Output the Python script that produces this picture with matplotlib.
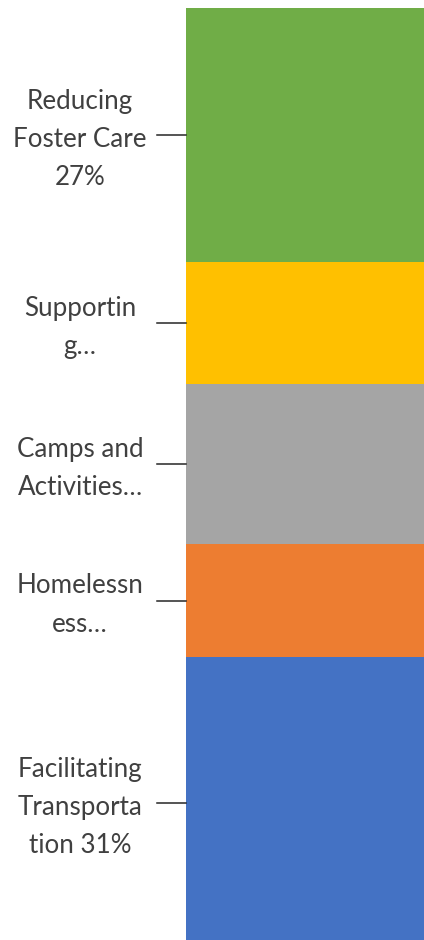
import matplotlib.pyplot as plt
import numpy as np

# data, bottom to top of the stacked bar
categories = ['Facilitating Transportation', 'Homelessness', 'Camps and Activities',
              'Supporting', 'Reducing Foster Care']
values = [31, 12, 17, 13, 27]
labels = ['Facilitating\nTransporta\ntion 31%', 'Homelessn\ness…', 'Camps and\nActivities…',
          'Supportin\ng…', 'Reducing\nFoster Care\n27%']
colors = ['#4472C4', '#ED7D31', '#A5A5A5', '#FFC000', '#70AD47']

plt.rcParams['font.family'] = ['Lato', 'DejaVu Sans']

fig = plt.figure(figsize=(4.24, 9.4), dpi=100)
ax = fig.add_axes([0, 0, 1, 1])
ax.set_xlim(0, 424)
ax.set_ylim(0.96, 100.85)
ax.axis('off')

bar_left = 186
bar_w = 260
bottoms = np.concatenate([[0], np.cumsum(values)[:-1]])
ax.bar(bar_left, values, width=bar_w, bottom=bottoms, color=colors, align='edge')

for v, b, lab in zip(values, bottoms, labels):
    mid = b + v / 2
    ax.plot([157, bar_left], [mid, mid], color='#262626', lw=1.1)
    ax.text(80, mid - 0.45, lab, ha='center', va='center', fontsize=18.7,
            color='#404040', linespacing=1.66, multialignment='center')

fig.savefig('out.png', dpi=100)
